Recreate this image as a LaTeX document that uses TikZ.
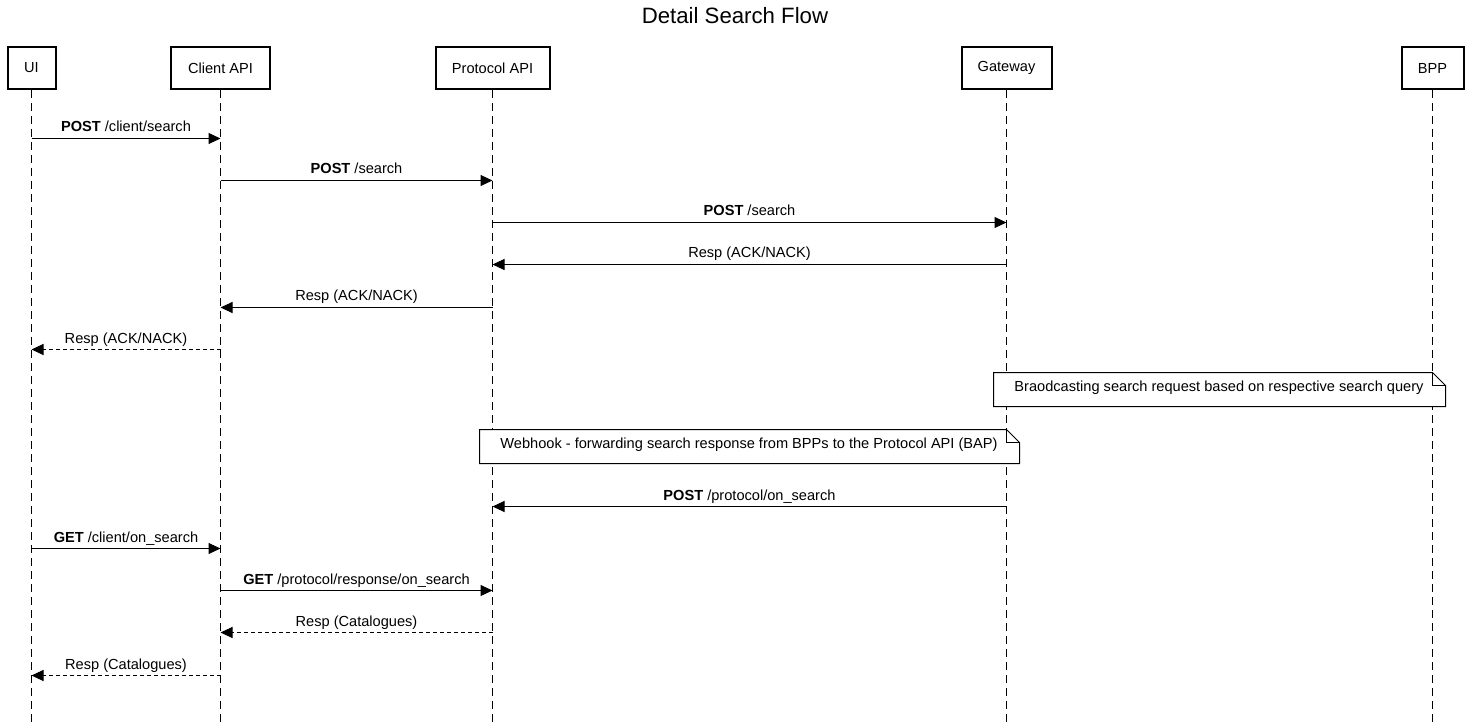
\documentclass[tikz,border=0pt]{standalone}
\usepackage{fontspec}
\setmainfont{Liberation Sans}
\usetikzlibrary{arrows.meta,calc}
\begin{document}
\begin{tikzpicture}[x=1pt,y=-1pt,
  actor/.style={draw,line width=2pt,fill=white,minimum height=42pt,inner sep=0pt,font=\fontsize{14.6}{16}\selectfont},
  life/.style={line width=1pt,dash pattern=on 8pt off 5pt},
  msg/.style={line width=1pt,-{Triangle[length=12pt,width=11pt]}},
  reply/.style={msg,dash pattern=on 4pt off 3pt},
  lbl/.style={font=\fontsize{14.6}{16}\selectfont,inner sep=0pt,anchor=base},
  notetxt/.style={font=\fontsize{14.6}{16}\selectfont,inner sep=0pt}
]
\useasboundingbox (0,0) rectangle (1470,727);
\node[font=\fontsize{22.2}{26}\selectfont] (title) at (735,16) {Detail Search Flow};
% actors
\node[actor,minimum width=48pt] (ui) at (31.5,68) {UI};
\node[actor,minimum width=99pt] (ca) at (220.5,68) {Client API};
\node[actor,minimum width=114pt] (pa) at (492.5,68) {Protocol API};
\node[actor,minimum width=90pt] (gw) at (1006.5,68) {Gateway};
\node[actor,minimum width=62pt] (bpp) at (1432.5,68) {BPP};
% lifeline ends
\coordinate (uiE) at (31.5,727);
\coordinate (caE) at (220.5,727);
\coordinate (paE) at (492.5,727);
\coordinate (gwE) at (1006.5,727);
\coordinate (bppE) at (1432.5,727);
\draw[life] (ui.south) -- (uiE);
\draw[life] (ca.south) -- (caE);
\draw[life] (pa.south) -- (paE);
\draw[life] (gw.south) -- (gwE);
\draw[life] (bpp.south) -- (bppE);
% messages
\newcommand{\msgline}[6]{%
  \coordinate (#1a) at (#2,#4);
  \coordinate (#1b) at (#3,#4);
  \draw[#5] (#1a) -- (#1b);
  \node[lbl] (#1l) at ($(#1a)!0.5!(#1b)+(0,-6.5)$) {#6};
}
\msgline{m1}{31.5}{220.5}{138.5}{msg}{\textbf{POST} /client/search}
\msgline{m2}{220.5}{492.5}{180.5}{msg}{\textbf{POST} /search}
\msgline{m3}{492.5}{1006.5}{222.5}{msg}{\textbf{POST} /search}
\msgline{m4}{1006.5}{492.5}{264.5}{msg}{Resp (ACK/NACK)}
\msgline{m5}{492.5}{220.5}{307.5}{msg}{Resp (ACK/NACK)}
\msgline{m6}{220.5}{31.5}{349.5}{reply}{Resp (ACK/NACK)}
\msgline{m7}{1006.5}{492.5}{506.5}{msg}{\textbf{POST} /protocol/on\_search}
\msgline{m8}{31.5}{220.5}{548.5}{msg}{\textbf{GET} /client/on\_search}
\msgline{m9}{220.5}{492.5}{590.5}{msg}{\textbf{GET} /protocol/response/on\_search}
\msgline{m10}{492.5}{220.5}{632.5}{reply}{Resp (Catalogues)}
\msgline{m11}{220.5}{31.5}{675.5}{reply}{Resp (Catalogues)}
% notes
\filldraw[fill=white,line width=1pt] (993.5,372.5) -- (1432.5,372.5) -- (1445.5,385.5) -- (1445.5,406.5) -- (993.5,406.5) -- cycle;
\draw[line width=1pt] (1432.5,372.5) -- (1432.5,385.5) -- (1445.5,385.5);
\node[notetxt] (n1) at (1219,388) {Braodcasting search request based on respective search query};
\filldraw[fill=white,line width=1pt] (479.5,429.5) -- (1006.5,429.5) -- (1019.5,442.5) -- (1019.5,463.5) -- (479.5,463.5) -- cycle;
\draw[line width=1pt] (1006.5,429.5) -- (1006.5,442.5) -- (1019.5,442.5);
\node[notetxt] (n2) at (749,445) {Webhook - forwarding search response from BPPs to the Protocol API (BAP)};
\end{tikzpicture}
\end{document}
